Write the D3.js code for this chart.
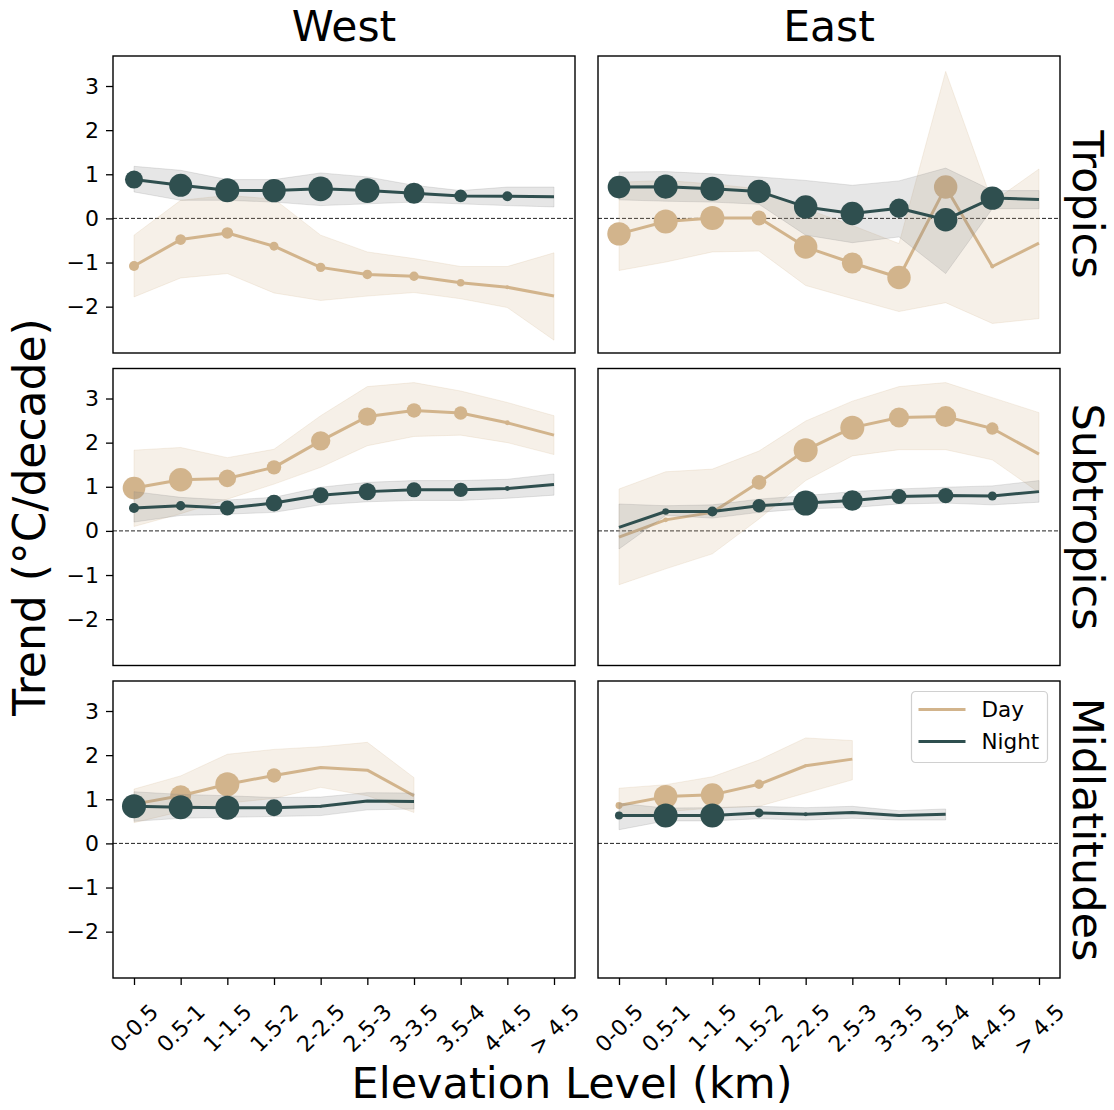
<!DOCTYPE html>
<html>
<head>
<meta charset="utf-8">
<script src="https://cdn.jsdelivr.net/npm/d3@7"></script>
<style>
  body { margin: 0; background: #fff; }
  svg text { font-family: "DejaVu Sans", sans-serif; fill: #000; }
</style>
</head>
<body>
<svg id="chart" width="1114" height="1110"></svg>
<script>
// Elevation bands on the x axis
const elevationLevels = ["0-0.5", "0.5-1", "1-1.5", "1.5-2", "2-2.5", "2.5-3", "3-3.5", "3.5-4", "4-4.5", "> 4.5"];
const sides = ["West", "East"];
const regions = ["Tropics", "Subtropics", "Midlatitudes"];
const yTickValues = [-2, -1, 0, 1, 2, 3];
const seriesNames = ["Day", "Night"];

// Trend (°C/decade), uncertainty band, and relative sample weight per elevation band
// --- West / Tropics
const westTropicsDayTrend  = [-1.08, -0.48, -0.33, -0.63, -1.11, -1.27, -1.31, -1.46, -1.56, -1.76];
const westTropicsDayLower  = [-1.78, -1.35, -1.25, -1.69, -1.86, -1.76, -1.68, -1.82, -2.02, -2.76];
const westTropicsDayUpper  = [-0.38, 0.41, 0.52, 0.44, -0.38, -0.76, -0.91, -1.09, -1.09, -0.78];
const westTropicsDayWeight = [25, 28, 34, 20, 22, 23, 22, 14, 4, 0];
const westTropicsNightTrend  = [0.88, 0.75, 0.64, 0.63, 0.67, 0.63, 0.57, 0.51, 0.50, 0.49];
const westTropicsNightLower  = [0.60, 0.41, 0.41, 0.37, 0.29, 0.33, 0.37, 0.33, 0.29, 0.26];
const westTropicsNightUpper  = [1.18, 1.09, 0.88, 0.88, 1.03, 0.94, 0.75, 0.63, 0.71, 0.71];
const westTropicsNightWeight = [81, 132, 144, 137, 151, 151, 110, 40, 25, 0];
// --- East / Tropics
const eastTropicsDayTrend  = [-0.35, -0.07, 0.01, 0.01, -0.65, -1.01, -1.34, 0.71, -1.09, -0.56];
const eastTropicsDayLower  = [-1.18, -0.99, -0.76, -0.74, -1.52, -1.82, -2.11, -1.91, -2.38, -2.27];
const eastTropicsDayUpper  = [0.82, 0.86, 0.78, 0.67, 0.22, -0.16, -0.57, 3.33, 0.37, 1.12];
const eastTropicsDayWeight = [137, 144, 144, 56, 137, 110, 137, 137, 4, 0];
const eastTropicsNightTrend  = [0.71, 0.72, 0.67, 0.61, 0.26, 0.11, 0.23, -0.03, 0.46, 0.43];
const eastTropicsNightLower  = [0.42, 0.39, 0.37, 0.32, -0.38, -0.55, -0.42, -1.25, 0.22, 0.22];
const eastTropicsNightUpper  = [1.05, 1.06, 1.01, 0.94, 0.86, 0.75, 0.85, 1.14, 0.63, 0.63];
const eastTropicsNightWeight = [128, 144, 144, 137, 137, 137, 94, 137, 137, 0];
// --- West / Subtropics
const westSubtropicsDayTrend  = [0.97, 1.16, 1.19, 1.44, 2.04, 2.59, 2.73, 2.67, 2.45, 2.17];
const westSubtropicsDayLower  = [0.10, 0.39, 0.72, 1.06, 1.44, 1.93, 2.14, 2.17, 2.00, 1.73];
const westSubtropicsDayUpper  = [1.83, 1.89, 1.66, 1.85, 2.61, 3.27, 3.36, 3.17, 2.91, 2.61];
const westSubtropicsDayWeight = [128, 137, 77, 52, 94, 85, 53, 45, 6, 0];
const westSubtropicsNightTrend  = [0.52, 0.57, 0.52, 0.63, 0.81, 0.89, 0.93, 0.93, 0.96, 1.05];
const westSubtropicsNightLower  = [0.20, 0.35, 0.38, 0.42, 0.59, 0.66, 0.69, 0.69, 0.74, 0.81];
const westSubtropicsNightUpper  = [0.89, 0.76, 0.70, 0.76, 0.99, 1.10, 1.14, 1.14, 1.17, 1.29];
const westSubtropicsNightWeight = [25, 22, 56, 69, 64, 76, 56, 52, 6, 0];
// --- East / Subtropics
const eastSubtropicsDayTrend  = [-0.14, 0.25, 0.42, 1.10, 1.83, 2.34, 2.57, 2.59, 2.32, 1.74];
const eastSubtropicsDayLower  = [-1.22, -0.86, -0.52, 0.27, 1.14, 1.70, 1.84, 1.84, 1.61, 0.87];
const eastSubtropicsDayUpper  = [0.95, 1.34, 1.40, 1.81, 2.49, 2.94, 3.27, 3.36, 3.02, 2.68];
const eastSubtropicsDayWeight = [0, 6, 4, 53, 144, 144, 100, 110, 38, 0];
const eastSubtropicsNightTrend  = [0.08, 0.44, 0.44, 0.57, 0.63, 0.69, 0.78, 0.80, 0.79, 0.89];
const eastSubtropicsNightLower  = [-0.41, 0.35, 0.29, 0.42, 0.50, 0.53, 0.61, 0.63, 0.59, 0.65];
const eastSubtropicsNightUpper  = [0.61, 0.57, 0.59, 0.72, 0.80, 0.89, 0.95, 0.99, 1.02, 1.14];
const eastSubtropicsNightWeight = [0, 11, 25, 45, 156, 106, 56, 59, 20, 0];
// --- West / Midlatitudes
const westMidlatDayTrend  = [0.89, 1.08, 1.34, 1.54, 1.72, 1.66, 1.08];
const westMidlatDayLower  = [0.47, 0.72, 0.91, 1.02, 1.27, 1.08, 0.70];
const westMidlatDayUpper  = [1.23, 1.53, 2.02, 2.13, 2.19, 2.29, 1.49];
const westMidlatDayWeight = [16, 110, 144, 52, 1, 0, 0];
const westMidlatNightTrend  = [0.84, 0.82, 0.81, 0.81, 0.84, 0.96, 0.95];
const westMidlatNightLower  = [0.50, 0.57, 0.59, 0.61, 0.63, 0.76, 0.78];
const westMidlatNightUpper  = [1.17, 1.11, 1.08, 1.04, 1.05, 1.15, 1.14];
const westMidlatNightWeight = [144, 144, 144, 72, 2, 0, 0];
// --- East / Midlatitudes
const eastMidlatDayTrend  = [0.86, 1.06, 1.10, 1.34, 1.76, 1.91];
const eastMidlatDayLower  = [0.59, 0.72, 0.80, 0.84, 1.14, 1.44];
const eastMidlatDayUpper  = [1.25, 1.33, 1.51, 1.89, 2.39, 2.33];
const eastMidlatDayWeight = [12, 137, 132, 22, 2, 0];
const eastMidlatNightTrend  = [0.63, 0.63, 0.63, 0.69, 0.66, 0.70, 0.63, 0.66];
const eastMidlatNightLower  = [0.31, 0.51, 0.51, 0.56, 0.53, 0.57, 0.53, 0.53];
const eastMidlatNightUpper  = [0.91, 0.80, 0.81, 0.84, 0.81, 0.84, 0.74, 0.78];
const eastMidlatNightWeight = [16, 144, 144, 20, 4, 0, 0, 0];

// Assemble rows of points for each series
function makeSeries(trend, lower, upper, weight) {
  return trend.map((v, i) => ({ level: elevationLevels[i], trend: v, lower: lower[i], upper: upper[i], weight: weight[i] }));
}
const panels = [
  { region: "Tropics", side: "West",
    day: makeSeries(westTropicsDayTrend, westTropicsDayLower, westTropicsDayUpper, westTropicsDayWeight),
    night: makeSeries(westTropicsNightTrend, westTropicsNightLower, westTropicsNightUpper, westTropicsNightWeight) },
  { region: "Tropics", side: "East",
    day: makeSeries(eastTropicsDayTrend, eastTropicsDayLower, eastTropicsDayUpper, eastTropicsDayWeight),
    night: makeSeries(eastTropicsNightTrend, eastTropicsNightLower, eastTropicsNightUpper, eastTropicsNightWeight) },
  { region: "Subtropics", side: "West",
    day: makeSeries(westSubtropicsDayTrend, westSubtropicsDayLower, westSubtropicsDayUpper, westSubtropicsDayWeight),
    night: makeSeries(westSubtropicsNightTrend, westSubtropicsNightLower, westSubtropicsNightUpper, westSubtropicsNightWeight) },
  { region: "Subtropics", side: "East",
    day: makeSeries(eastSubtropicsDayTrend, eastSubtropicsDayLower, eastSubtropicsDayUpper, eastSubtropicsDayWeight),
    night: makeSeries(eastSubtropicsNightTrend, eastSubtropicsNightLower, eastSubtropicsNightUpper, eastSubtropicsNightWeight) },
  { region: "Midlatitudes", side: "West",
    day: makeSeries(westMidlatDayTrend, westMidlatDayLower, westMidlatDayUpper, westMidlatDayWeight),
    night: makeSeries(westMidlatNightTrend, westMidlatNightLower, westMidlatNightUpper, westMidlatNightWeight) },
  { region: "Midlatitudes", side: "East",
    day: makeSeries(eastMidlatDayTrend, eastMidlatDayLower, eastMidlatDayUpper, eastMidlatDayWeight),
    night: makeSeries(eastMidlatNightTrend, eastMidlatNightLower, eastMidlatNightUpper, eastMidlatNightWeight) }
];

// Layout
const colLeft = [113, 598];
const panelW = 462;
const rowTop = [56, 368.5, 681];
const panelH = 297;
const colors = { Day: "#d2b48c", Night: "#2f4f4f" };
const bandFill = { Day: "#d2b48c", Night: "#808080" };
const tickFont = 22;

const svg = d3.select("#chart");
const rScale = d3.scaleSqrt().domain([0, 156]).range([0, 12.5]);

panels.forEach(p => {
  const ci = sides.indexOf(p.side);
  const ri = regions.indexOf(p.region);
  const x0 = colLeft[ci], y0 = rowTop[ri];
  const x = d3.scalePoint().domain(elevationLevels).range([x0, x0 + panelW]).padding(0.45);
  const y = d3.scaleLinear().domain([-3.05, 3.68]).range([y0 + panelH, y0]);
  const g = svg.append("g");

  // zero reference line
  g.append("line")
    .attr("x1", x0).attr("x2", x0 + panelW)
    .attr("y1", y(0)).attr("y2", y(0))
    .attr("stroke", "#222").attr("stroke-width", 1)
    .attr("stroke-dasharray", "4,2");

  const area = d3.area().x(d => x(d.level)).y0(d => y(d.lower)).y1(d => y(d.upper));
  const line = d3.line().x(d => x(d.level)).y(d => y(d.trend));

  [["Day", p.day], ["Night", p.night]].forEach(([name, data]) => {
    g.append("path").datum(data)
      .attr("d", area)
      .attr("fill", bandFill[name]).attr("fill-opacity", 0.2)
      .attr("stroke", bandFill[name]).attr("stroke-opacity", 0.2).attr("stroke-width", 1);
    g.append("path").datum(data)
      .attr("d", line)
      .attr("fill", "none").attr("stroke", colors[name]).attr("stroke-width", 3)
      .attr("stroke-linejoin", "round");
    g.selectAll(null).data(data.filter(d => d.weight > 0)).enter()
      .append("circle")
      .attr("cx", d => x(d.level)).attr("cy", d => y(d.trend))
      .attr("r", d => rScale(d.weight))
      .attr("fill", colors[name]);
  });

  // frame
  g.append("rect")
    .attr("x", x0).attr("y", y0).attr("width", panelW).attr("height", panelH)
    .attr("fill", "none").attr("stroke", "#000").attr("stroke-width", 1.4);

  // y axis on left column
  if (ci === 0) {
    const ax = g.append("g").attr("transform", `translate(${x0},0)`)
      .call(d3.axisLeft(y).tickValues(yTickValues).tickSize(7).tickPadding(7).tickFormat(d3.format("d")));
    ax.select(".domain").remove();
    ax.selectAll(".tick line").attr("stroke", "#000").attr("stroke-width", 1.3);
    ax.selectAll(".tick text").attr("font-size", tickFont).attr("font-family", "DejaVu Sans");
  }

  // x axis on bottom row
  if (ri === regions.length - 1) {
    const ax = g.append("g").attr("transform", `translate(0,${y0 + panelH})`)
      .call(d3.axisBottom(x).tickSize(7).tickFormat(""));
    ax.select(".domain").remove();
    ax.selectAll(".tick line").attr("stroke", "#000").attr("stroke-width", 1.3);
    const labelTop = y0 + panelH + 24;
    elevationLevels.forEach(lv => {
      const t = g.append("text")
        .attr("font-size", tickFont)
        .attr("text-anchor", "middle")
        .attr("dy", "0.36em")
        .text(lv);
      const L = t.node().getComputedTextLength();
      const h = tickFont * 0.73;
      const half = (L + h) / (2 * Math.SQRT2);
      t.attr("transform", `translate(${x(lv)},${labelTop + half}) rotate(-45)`);
    });
  }

  // column titles
  if (ri === 0) {
    svg.append("text").attr("x", x0 + panelW / 2).attr("y", 41)
      .attr("text-anchor", "middle").attr("font-size", 42.5).text(p.side);
  }
  // row labels on the right
  if (ci === 1) {
    svg.append("text")
      .attr("transform", `translate(1073,${y0 + panelH / 2}) rotate(90)`)
      .attr("text-anchor", "middle").attr("font-size", 43).text(p.region);
  }

  // legend in the lower right panel
  if (ci === 1 && ri === 2) {
    const lg = svg.append("g").attr("transform", `translate(911.5,691.5)`);
    lg.append("rect").attr("width", 136).attr("height", 71).attr("rx", 4)
      .attr("fill", "#fff").attr("fill-opacity", 0.8)
      .attr("stroke", "#d0d0d0").attr("stroke-width", 1.2);
    seriesNames.forEach((name, i) => {
      const yy = 18 + i * 32;
      lg.append("line").attr("x1", 7).attr("x2", 54).attr("y1", yy).attr("y2", yy)
        .attr("stroke", colors[name]).attr("stroke-width", 3);
      lg.append("text").attr("x", 70).attr("y", yy).attr("dy", "0.36em")
        .attr("font-size", 21.5).text(name);
    });
  }
});

// shared axis labels
svg.append("text")
  .attr("transform", `translate(45,517) rotate(-90)`)
  .attr("text-anchor", "middle").attr("font-size", 44)
  .text("Trend (°C/decade)");
svg.append("text")
  .attr("x", 572).attr("y", 1098)
  .attr("text-anchor", "middle").attr("font-size", 43)
  .text("Elevation Level (km)");
</script>
</body>
</html>
